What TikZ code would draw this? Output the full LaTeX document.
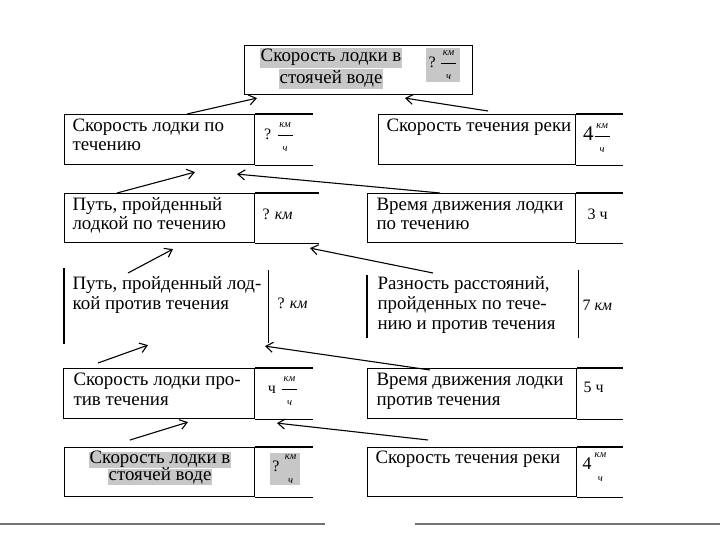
\documentclass[tikz,border=0pt]{standalone}
\usepackage{amsmath}
\usepackage{fontspec}
\setmainfont{Liberation Serif}
\usetikzlibrary{arrows.meta, positioning}

\definecolor{hlgray}{gray}{0.78}
\definecolor{rulegray}{gray}{0.45}

\newcommand{\cellfont}{\fontsize{19}{20}\selectfont}
\newcommand{\valfont}{\fontsize{16}{18}\selectfont}
\newcommand{\unitfont}{\fontsize{10.5}{10.5}\selectfont\itshape}
\newcommand{\kmh}{\ensuremath{\dfrac{\mbox{\unitfont\,км\,}}{\mbox{\unitfont ч}}}}
\newcommand{\kmhnobar}{\ensuremath{\genfrac{}{}{0pt}{0}{\mbox{\unitfont км}}{\mbox{\unitfont ч}}}}

\begin{document}
\begin{tikzpicture}[x=1bp, y=-1bp, line width=1.1bp,
  >={Straight Barb[length=7bp, width=10bp]},
  cell/.style={draw, anchor=north west, inner sep=0pt, minimum height=50bp},
  open/.style={anchor=north west, inner sep=0pt},
  txt/.style={anchor=base west, inner sep=0pt, align=left, font=\cellfont},
  val/.style={inner sep=0pt, font=\valfont},
  hl/.style={fill=hlgray, inner xsep=1bp, inner ysep=0pt, font=\cellfont},
  link/.style={->, line width=1.1bp},
  footrule/.style={draw=rulegray, line width=1.3bp}]

  \useasboundingbox (0,0) rectangle (720,540);

  % top: speed in still water
  \node[cell, minimum width=228bp, minimum height=49bp] (still) at (244,45) {};
  \node[hl, text height=14bp, text depth=6bp] (stillA) at (331,58) {Скорость лодки в};
  \node[hl, text height=14bp, text depth=6bp, below=0pt of stillA] (stillB) {стоячей воде};
  \node[hl, inner sep=3bp, font=\valfont] (stillV) at (443,65) {?\hspace{4bp}\kmh};

  % row 1
  \node[cell, minimum width=190bp] (r1l) at (64,114) {};
  \draw (r1l.north east) -- ++(58,0) (r1l.south east) -- ++(58,0);
  \node[txt] (r1lText) at (72,151) {Скорость лодки по\\течению};
  \node[val] (r1lVal) at (279,137) {?\hspace{5bp}\kmh};

  \node[cell, minimum width=197bp] (r1r) at (378,114) {};
  \draw (r1r.north east) -- ++(47,0) (r1r.south east) -- ++(47,0);
  \node[txt] (r1rText) at (386,132) {Скорость течения реки};
  \node[val] (r1rVal) at (597,138) {{\fontsize{21}{21}\selectfont 4}\kmh};

  % row 2
  \node[cell, minimum width=190bp, minimum height=49bp] (r2l) at (64,193) {};
  \draw (r2l.north east) -- ++(64,0) (r2l.south east) -- ++(64,0);
  \node[txt] (r2lText) at (72,230) {Путь, пройденный\\лодкой по течению};
  \node[txt, font=\valfont] (r2lVal) at (262,220) {? \textit{км}};

  \node[cell, minimum width=208bp, minimum height=49bp] (r2r) at (367,193) {};
  \draw (r2r.north east) -- ++(47,0) (r2r.south east) -- ++(47,0);
  \node[txt] (r2rText) at (376,230) {Время движения лодки\\по течению};
  \node[txt, font=\valfont] (r2rVal) at (587,220) {3 ч};

  % row 3 (open cells)
  \node[open, minimum width=203bp, minimum height=75bp] (r3l) at (64,268) {};
  \draw (r3l.north west) -- (r3l.south west)
        ([shift={(0,2)}]r3l.north east) -- ([shift={(0,-1)}]r3l.south east);
  \node[txt] (r3lText) at (72,309) {Путь, пройденный лод-\\кой против течения};
  \node[txt, font=\valfont] (r3lVal) at (277,308) {? \textit{км}};

  \node[open, minimum width=210bp, minimum height=68bp] (r3r) at (367,270) {};
  \draw ([shift={(0,5)}]r3r.north west) -- ([shift={(0,-1)}]r3r.south west)
        (r3r.north east) -- ([shift={(0,-1)}]r3r.south east);
  \node[txt] (r3rText) at (377,329) {Разность расстояний,\\пройденных по тече-\\нию и против течения};
  \node[txt, font=\valfont] (r3rVal) at (582,310) {7 \textit{км}};

  % row 4
  \node[cell, minimum width=191bp] (r4l) at (63,368) {};
  \draw (r4l.north east) -- ++(58,0) (r4l.south east) -- ++(58,0);
  \node[txt] (r4lText) at (73,405) {Скорость лодки про-\\тив течения};
  \node[val] (r4lVal) at (283,391) {ч\hspace{5bp}\kmh};

  \node[cell, minimum width=209bp] (r4r) at (367,368) {};
  \draw (r4r.north east) -- ++(46,0) (r4r.south east) -- ++(46,0);
  \node[txt] (r4rText) at (376,405) {Время движения лодки\\против течения};
  \node[txt, font=\valfont] (r4rVal) at (583,392) {5 ч};

  % row 5
  \node[cell, minimum width=190bp, minimum height=49bp] (r5l) at (64,447) {};
  \draw (r5l.north east) -- ++(58,0) (r5l.south east) -- ++(58,0);
  \node[hl, text height=12bp, text depth=4bp] (r5lA) at (160,459.5) {Скорость лодки в};
  \node[hl, text height=12bp, text depth=4bp, below=0pt of r5lA] (r5lB) {стоячей воде};
  \node[hl, inner sep=2bp, font=\valfont] (r5lVal) at (285,469) {?\hspace{4bp}\kmhnobar};

  \node[cell, minimum width=209bp, minimum height=49bp] (r5r) at (367,447) {};
  \draw (r5r.north east) -- ++(46,0) (r5r.south east) -- ++(46,0);
  \node[txt] (r5rText) at (375,463) {Скорость течения реки};
  \node[val] (r5rVal) at (595,467) {{\fontsize{18}{18}\selectfont 4}\hspace{2bp}\kmhnobar};

  % arrows
  \draw[link] ([shift={(123,0)}]r1l.north west) -- ([shift={(13,3)}]still.south west);
  \draw[link] ([shift={(110,-3)}]r1r.north west) -- ([shift={(161,3)}]still.south west);
  \draw[link] ([shift={(53,0)}]r2l.north west) -- ([shift={(131,7)}]r1l.south west);
  \draw[link] ([shift={(73,0)}]r2r.north west) -- ([shift={(173,9)}]r1l.south west);
  \draw[link] ([shift={(64,5)}]r3l.north west) -- ([shift={(109,6)}]r2l.south west);
  \draw[link] ([shift={(66,3)}]r3r.north west) -- ([shift={(246,5)}]r2l.south west);
  \draw[link] ([shift={(35,-5)}]r4l.north west) -- ([shift={(84,1)}]r3l.south west);
  \draw[link] ([shift={(63,2)}]r4r.north west) -- ([shift={(201,2)}]r3l.south west);
  \draw[link] ([shift={(66,-7)}]r5l.north west) -- ([shift={(125,3)}]r4l.south west);
  \draw[link] ([shift={(61,-7)}]r5r.north west) -- ([shift={(214,4)}]r4l.south west);

  % page rules
  \draw[footrule] (0,524) -- (325,524);
  \draw[footrule] (415,524) -- (720,524);
\end{tikzpicture}
\end{document}
